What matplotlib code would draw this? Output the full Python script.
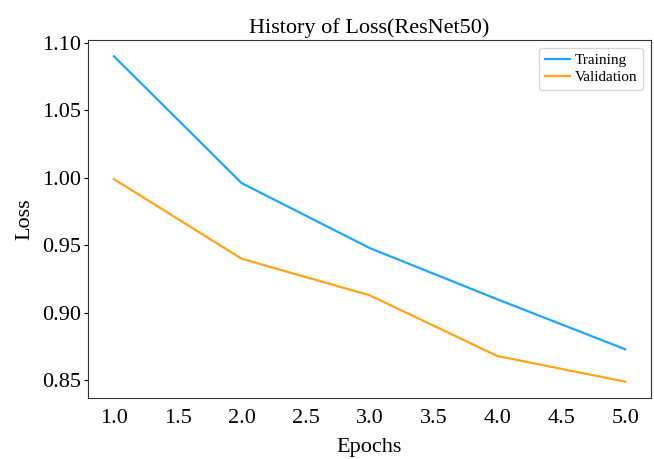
import matplotlib
matplotlib.use("Agg")
import matplotlib.pyplot as plt

epochs = [1, 2, 3, 4, 5]
training_loss = [1.090, 0.996, 0.948, 0.910, 0.873]
validation_loss = [0.999, 0.940, 0.913, 0.868, 0.849]

plt.rcParams['font.family'] = ['Liberation Serif', 'DejaVu Serif']

fig = plt.figure(figsize=(6.54, 4.59), dpi=100)
ax = fig.add_axes([0.135, 0.133, 0.860, 0.780])
ax.plot(epochs, training_loss, color='#1fa5fb', lw=1.6, label='Training')
ax.plot(epochs, validation_loss, color='#ffa31a', lw=1.6, label='Validation')
ax.set_xticks([1.0, 1.5, 2.0, 2.5, 3.0, 3.5, 4.0, 4.5, 5.0])
ax.set_yticks([0.85, 0.90, 0.95, 1.00, 1.05, 1.10])
ax.tick_params(axis='both', labelsize=16, width=0.8)
ax.tick_params(axis='x', length=0, pad=8)
ax.tick_params(axis='y', length=3, pad=2)
ax.set_title('History of Loss(ResNet50)', fontsize=16, pad=5)
ax.set_xlabel('Epochs', fontsize=16, labelpad=7)
ax.set_ylabel('Loss', fontsize=16, labelpad=6)
for s in ax.spines.values():
    s.set_color('#333333')
ax.legend(loc='upper right', fontsize=11, handlelength=1.6, handletextpad=0.3,
          borderpad=0.4, labelspacing=0.2)
fig.savefig('out.png', dpi=100)
